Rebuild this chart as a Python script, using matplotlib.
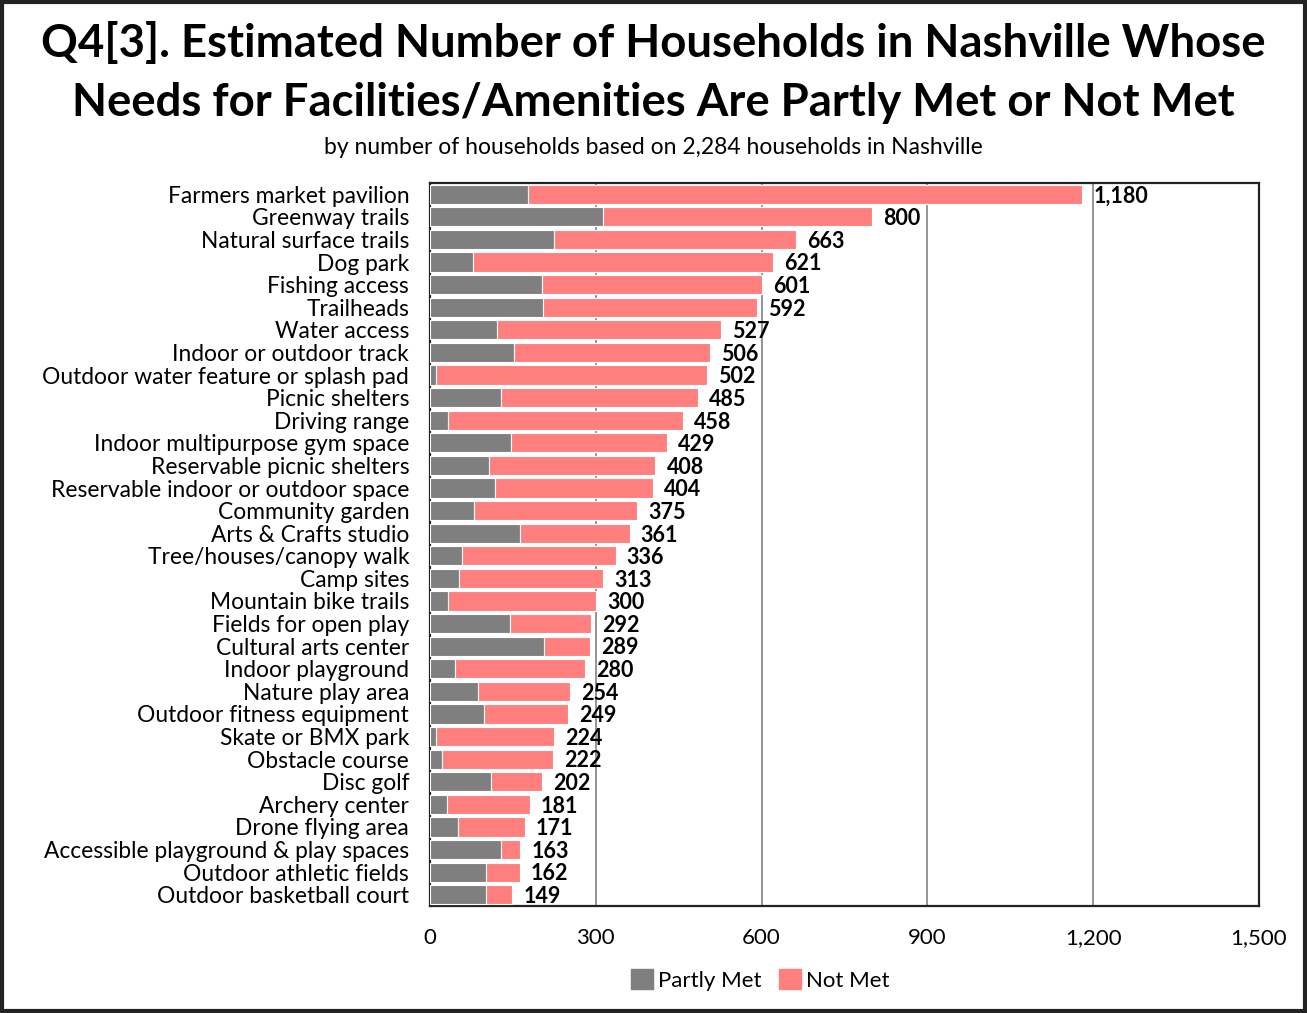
import matplotlib
matplotlib.use("Agg")
import matplotlib.pyplot as plt
from matplotlib.patches import Rectangle, Patch
from matplotlib.ticker import FuncFormatter

plt.rcParams["font.family"] = ["Lato", "DejaVu Sans"]

categories = [
    "Farmers market pavilion", "Greenway trails", "Natural surface trails",
    "Dog park", "Fishing access", "Trailheads", "Water access",
    "Indoor or outdoor track", "Outdoor water feature or splash pad",
    "Picnic shelters", "Driving range", "Indoor multipurpose gym space",
    "Reservable picnic shelters", "Reservable indoor or outdoor space",
    "Community garden", "Arts & Crafts studio", "Tree/houses/canopy walk",
    "Camp sites", "Mountain bike trails", "Fields for open play",
    "Cultural arts center", "Indoor playground", "Nature play area",
    "Outdoor fitness equipment", "Skate or BMX park", "Obstacle course",
    "Disc golf", "Archery center", "Drone flying area",
    "Accessible playground & play spaces", "Outdoor athletic fields",
    "Outdoor basketball court",
]
totals = [1180, 800, 663, 621, 601, 592, 527, 506, 502, 485, 458, 429,
          408, 404, 375, 361, 336, 313, 300, 292, 289, 280, 254, 249,
          224, 222, 202, 181, 171, 163, 162, 149]
partly_met = [177, 313, 224, 77, 203, 204, 122, 152, 10, 129, 33, 147,
              106, 118, 80, 162, 58, 53, 33, 144, 207, 45, 87, 98,
              10, 22, 110, 31, 51, 129, 102, 101]
not_met = [t - p for t, p in zip(totals, partly_met)]
x_ticks = [0, 300, 600, 900, 1200, 1500]

GRAY = "#7f7f7f"
PINK = "#ff7f7f"

fig = plt.figure(figsize=(13.07, 10.13), dpi=100)
ax = fig.add_axes([430 / 1307, 107 / 1013, 829 / 1307, 723 / 1013])

y = list(range(len(categories)))
ax.barh(y, partly_met, height=0.85, color=GRAY, edgecolor="white",
        linewidth=0.8, zorder=3, label="Partly Met")
ax.barh(y, not_met, left=partly_met, height=0.85, color=PINK,
        edgecolor="white", linewidth=0.8, zorder=3, label="Not Met")

for yi, t in zip(y, totals):
    ax.text(t + 20, yi + 0.08, f"{t:,}", va="center", ha="left", fontsize=15.5,
            fontweight="bold", color="black", zorder=4)

ax.set_ylim(len(categories) - 0.5, -0.5)
ax.set_xlim(0, 1500)
ax.set_yticks(y)
ax.set_yticklabels(categories, fontsize=16.4)
ax.set_xticks(x_ticks)
ax.xaxis.set_major_formatter(FuncFormatter(lambda v, _: f"{int(v):,}"))
ax.tick_params(axis="both", length=0)
ax.tick_params(axis="x", labelsize=16, pad=16)
ax.tick_params(axis="y", pad=15)
ax.grid(axis="x", color="#8c8c8c", linewidth=1.3, zorder=0)
ax.set_axisbelow(True)
for s in ax.spines.values():
    s.set_color("#222222")
    s.set_linewidth(1.6)

fig.text(0.5, 1 - 44 / 1013, "Q4[3]. Estimated Number of Households in Nashville Whose",
         ha="center", va="center", fontsize=32.8, fontweight="bold")
fig.text(0.5, 1 - 103 / 1013, "Needs for Facilities/Amenities Are Partly Met or Not Met",
         ha="center", va="center", fontsize=32.8, fontweight="bold")
fig.text(0.5, 1 - 147 / 1013, "by number of households based on 2,284 households in Nashville",
         ha="center", va="center", fontsize=16.5)

handles = [Patch(color=GRAY, label="Partly Met"), Patch(color=PINK, label="Not Met")]
fig.legend(handles=handles, loc="center", bbox_to_anchor=(760 / 1307, 1 - 980 / 1013),
           ncol=2, frameon=False, fontsize=16, handlelength=1.0, handleheight=1.0,
           handletextpad=0.2, columnspacing=0.8)

fig.patches.append(Rectangle((0.0015, 0.002), 0.997, 0.996, transform=fig.transFigure,
                             fill=False, edgecolor="#222222", linewidth=3))

fig.savefig("out.png", dpi=100)
